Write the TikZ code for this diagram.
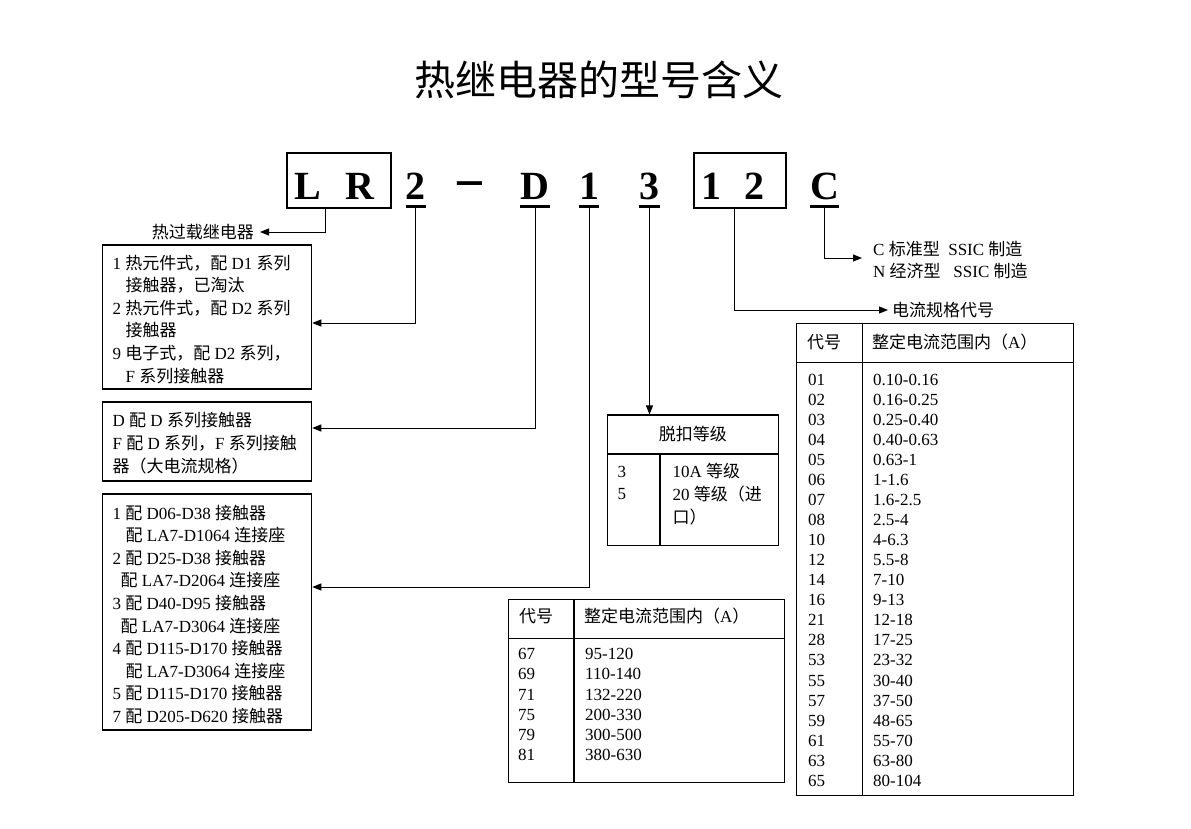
\documentclass[tikz,border=0pt]{standalone}
\usepackage{fontspec}
\setmainfont{Liberation Serif}
\newfontfamily\cjk{Noto Sans CJK SC}
\newcommand\zh[1]{{\cjk #1}}
\usetikzlibrary{arrows.meta}
\tikzstyle{box}=[draw=black,line width=1.1pt,inner sep=0pt]
% multi-line texts sit on the baseline of their last line
\tikzstyle{txt}=[align=left,anchor=base west,inner sep=0pt,
  font=\fontsize{17}{22.6}\selectfont]
\tikzstyle{row}=[align=left,anchor=base west,inner sep=0pt,
  font=\fontsize{17}{20.07}\selectfont]
\tikzstyle{code}=[inner sep=0pt,anchor=base,font=\fontsize{40}{44}\selectfont\bfseries]
\tikzstyle{uline}=[line width=3pt]
\tikzstyle{arr}=[line width=1pt,-{Triangle[length=9pt,width=7pt]}]

\begin{document}
\begin{tikzpicture}[x=1pt,y=-1pt]
    \path[fill=white,use as bounding box] (0,0) rectangle (1191,829);
    \node[font=\cjk\fontsize{41}{44}\selectfont] (title) at (598.5,80) {热继电器的型号含义};

    % model code
    \node[style=box,minimum width=104pt,minimum height=55pt] (lr) at (339,180.5) {};
    \node[style=box,minimum width=92pt,minimum height=55pt] (twelve) at (740,180.5) {};
    \node[style=code] (l) at (308,200) {L};
    \node[style=code] (r) at (360,200) {R};
    \node[style=code] (two) at (415.8,200) {2};
    \node[style=code,font=\fontsize{54}{56}\selectfont\bfseries] (dash) at (470,201.5) {−};
    \node[style=code] (d) at (535,200) {D};
    \node[style=code] (one) at (589,200) {1};
    \node[style=code] (three) at (649.5,200) {3};
    \node[style=code] (t1) at (711.6,200) {1};
    \node[style=code] (t2) at (754.7,200) {2};
    \node[style=code] (c) at (824.5,200) {C};
    \foreach \n in {two,d,one,three,c}
        \draw[style=uline] ([yshift=-6.4pt]\n.base west) -- ([yshift=-6.4pt]\n.base east);

    % left side
    \node[inner sep=6pt,anchor=east,font=\cjk\fontsize{17}{20}\selectfont] (relay) at (260,232) {热过载继电器};
    \node[style=box,minimum width=209pt,minimum height=144pt] (b1) at (207.2,317) {};
    \node[style=txt] (b1t) at (112.5,382) {1 \zh{热元件式，配} D1 \zh{系列}\\
        \hspace*{13pt}\zh{接触器，已淘汰}\\
        2 \zh{热元件式，配} D2 \zh{系列}\\
        \hspace*{13pt}\zh{接触器}\\
        9 \zh{电子式，配} D2 \zh{系列，}\\
        \hspace*{13pt}F \zh{系列接触器}};
    \node[style=box,minimum width=209pt,minimum height=79pt] (b2) at (207.2,441.5) {};
    \node[style=txt,font=\fontsize{17}{23.3}\selectfont] (b2t) at (112.5,472.6) {D \zh{配} D \zh{系列接触器}\\
        F \zh{配} D \zh{系列，}F \zh{系列接触}\\
        \zh{器（大电流规格）}};
    \node[style=box,minimum width=209pt,minimum height=236pt] (b3) at (207.2,612) {};
    \node[style=txt] (b3t) at (112.5,722.5) {1 \zh{配} D06-D38 \zh{接触器}\\
        \hspace*{13pt}\zh{配} LA7-D1064 \zh{连接座}\\
        2 \zh{配} D25-D38 \zh{接触器}\\
        \hspace*{8pt}\zh{配} LA7-D2064 \zh{连接座}\\
        3 \zh{配} D40-D95 \zh{接触器}\\
        \hspace*{8pt}\zh{配} LA7-D3064 \zh{连接座}\\
        4 \zh{配} D115-D170 \zh{接触器}\\
        \hspace*{13pt}\zh{配} LA7-D3064 \zh{连接座}\\
        5 \zh{配} D115-D170 \zh{接触器}\\
        7 \zh{配} D205-D620 \zh{接触器}};

    % trip class
    \node[style=box,minimum width=171pt,minimum height=130.7pt] (trip) at (692.8,480.35) {};
    \draw[line width=1.1pt] (607.3,454) -- (778.3,454);
    \draw[line width=1.1pt] (660,454) -- (660,545.7);
    \node[font=\cjk\fontsize{17}{20}\selectfont] (triph) at (692.8,434) {脱扣等级};
    \node[style=txt,font=\fontsize{17}{22}\selectfont] (trip1) at (617.5,499.5) {3\\5};
    \node[style=txt,font=\fontsize{17}{23}\selectfont] (trip2) at (672.5,523.5) {10A \zh{等级}\\
        20 \zh{等级（进}\\
        \zh{口）}};

    % small table
    \node[style=box,minimum width=276pt,minimum height=183.4pt] (st) at (646.3,691) {};
    \draw[line width=1.1pt] (508.3,638.3) -- (784.3,638.3);
    \draw[line width=1.1pt] (574,599.3) -- (574,782.7);
    \node[style=txt] (sth1) at (519,622) {\zh{代号}};
    \node[style=txt] (sth2) at (584,622) {\zh{整定电流范围内（}A\zh{）}};
    \node[style=row,font=\fontsize{17}{20.2}\selectfont] (stc) at (518,760.7) {67\\69\\71\\75\\79\\81};
    \node[style=row,font=\fontsize{17}{20.2}\selectfont] (str) at (585,760.7) {95-120\\110-140\\132-220\\200-330\\300-500\\380-630};

    % big table
    \node[style=box,minimum width=276.6pt,minimum height=472.4pt] (bt) at (935,559.5) {};
    \draw[line width=1.1pt] (796.7,362.7) -- (1073.3,362.7);
    \draw[line width=1.1pt] (862.7,323.3) -- (862.7,795.7);
    \node[style=txt] (bth1) at (807,348) {\zh{代号}};
    \node[style=txt] (bth2) at (872,348) {\zh{整定电流范围内（}A\zh{）}};
    \node[style=row] (btc) at (808,786.4) {01\\02\\03\\04\\05\\06\\07\\08\\10\\12\\14\\16\\21\\28\\53\\55\\57\\59\\61\\63\\65};
    \node[style=row] (btr) at (873,786.4) {0.10-0.16\\0.16-0.25\\0.25-0.40\\0.40-0.63\\0.63-1\\1-1.6\\1.6-2.5\\2.5-4\\4-6.3\\5.5-8\\7-10\\9-13\\12-18\\17-25\\23-32\\30-40\\37-50\\48-65\\55-70\\63-80\\80-104};

    % right side labels
    \node[style=txt] (ct) at (873,277.7) {C \zh{标准型}\hspace{8.5pt}SSIC \zh{制造}\\
        N \zh{经济型}\hspace{12.75pt}SSIC \zh{制造}};
    \node[inner sep=4pt,anchor=west,font=\cjk\fontsize{17}{20}\selectfont] (spec) at (888,310) {电流规格代号};

    % connectors
    \draw[style=arr] (lr.south -| 325,0) |- (relay.east);
    \draw[style=arr] ([yshift=-7.5pt]two.base) |- (b1.east |- 0,323);
    \draw[style=arr] ([yshift=-7.5pt]d.base) |- (b2.east |- 0,428);
    \draw[style=arr] ([yshift=-7.5pt]one.base) |- (b3.east |- 0,587);
    \draw[style=arr] ([yshift=-7.5pt]three.base) -- (three.base |- trip.north);
    \draw[style=arr] (twelve.south -| 734,0) |- (spec.west);
    \draw[style=arr] ([yshift=-7.5pt]c.base) |- (862,258);
\end{tikzpicture}
\end{document}
